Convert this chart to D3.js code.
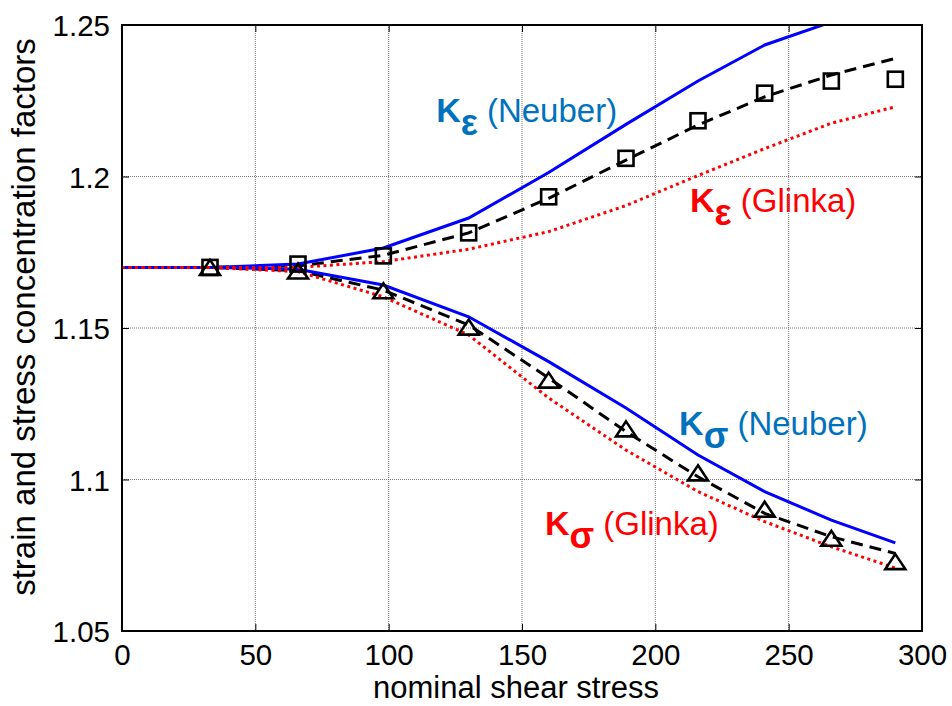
<!DOCTYPE html>
<html>
<head>
<meta charset="utf-8">
<script src="https://cdn.jsdelivr.net/npm/d3@7"></script>
<style>
  html, body { margin: 0; padding: 0; background: #fff; }
  svg { display: block; font-family: "Liberation Sans", Arial, sans-serif; }
</style>
</head>
<body>
<svg id="chart" width="952" height="706"></svg>
<script>
// ---------------- data ----------------
const stress = [0, 33, 66, 98, 130, 160, 189, 216, 241, 266, 290];
const epsNeuber = [1.17, 1.17, 1.1711, 1.1764, 1.1863, 1.2013, 1.2172, 1.2315, 1.2434, 1.2510, 1.2575];
const epsGlinka = [1.17, 1.17, 1.1700, 1.1719, 1.1760, 1.1818, 1.1904, 1.2003, 1.2092, 1.2176, 1.2230];
const epsFit    = [1.17, 1.17, 1.1705, 1.1740, 1.1814, 1.1928, 1.2054, 1.2170, 1.2263, 1.2335, 1.2390];
const sigNeuber = [1.17, 1.17, 1.1694, 1.1642, 1.1537, 1.1389, 1.1236, 1.1081, 1.0960, 1.0866, 1.0791];
const sigGlinka = [1.17, 1.17, 1.1686, 1.1603, 1.1477, 1.1269, 1.1097, 1.0960, 1.0861, 1.0778, 1.0708];
const sigFit    = [1.17, 1.17, 1.1689, 1.1625, 1.1510, 1.1335, 1.1158, 1.1009, 1.0888, 1.0811, 1.0756];

const markStress = [33, 66, 98, 130, 160, 189, 216, 241, 266, 290];
const epsMarks   = [1.17, 1.1711, 1.1738, 1.1814, 1.1933, 1.2060, 1.2184, 1.2275, 1.2315, 1.2321];
const sigMarks   = [1.17, 1.1688, 1.1623, 1.1503, 1.1328, 1.1167, 1.1022, 1.0902, 1.0806, 1.0729];

const xTicks = [0, 50, 100, 150, 200, 250, 300];
const yTicks = [1.05, 1.1, 1.15, 1.2, 1.25];
const yTickLabels = ["1.05", "1.1", "1.15", "1.2", "1.25"];

const xTitle = "nominal shear stress";
const yTitle = "strain and stress concentration factors";

// annotations (anchor in data coordinates)
const notes = [
  { k: "K", sub: "ε", rest: " (Neuber)", x: 117.8, y: 1.2181, color: "#0072BD" },
  { k: "K", sub: "ε", rest: " (Glinka)", x: 213.0, y: 1.1883, color: "#FF0000" },
  { k: "K", sub: "σ", rest: " (Neuber)", x: 208.9, y: 1.1147, color: "#0072BD" },
  { k: "K", sub: "σ", rest: " (Glinka)", x: 158.6, y: 1.0817, color: "#FF0000" }
];

// ---------------- layout ----------------
const L = 122, R = 922, T = 25, B = 631;
const svg = d3.select("#chart");
const x = d3.scaleLinear().domain([0, 300]).range([L, R]);
const y = d3.scaleLinear().domain([1.05, 1.25]).range([B, T]);

svg.append("defs").append("clipPath").attr("id", "clip")
  .append("rect").attr("x", L).attr("y", T).attr("width", R - L).attr("height", B - T);

// annotations (drawn first; grid passes over them as in the original)
notes.forEach(n => {
  const t = svg.append("text")
    .attr("x", x(n.x)).attr("y", y(n.y))
    .attr("fill", n.color);
  t.append("tspan").attr("font-weight", "bold").attr("font-size", 34).text(n.k);
  t.append("tspan").attr("font-weight", "bold").attr("font-size", 36).attr("dy", 13).text(n.sub);
  t.append("tspan").attr("font-size", 33).attr("dy", -13).text(n.rest);
});

// grid
const grid = svg.append("g");
grid.selectAll("line.gx").data(xTicks.slice(1, -1)).enter().append("line")
  .attr("x1", d => x(d)).attr("x2", d => x(d)).attr("y1", T).attr("y2", B)
  .attr("stroke", "#777").attr("stroke-width", 1).attr("stroke-dasharray", "1,1");
grid.selectAll("line.gy").data(yTicks.slice(1, -1)).enter().append("line")
  .attr("y1", d => y(d)).attr("y2", d => y(d)).attr("x1", L).attr("x2", R)
  .attr("stroke", "#777").attr("stroke-width", 1).attr("stroke-dasharray", "1,1");

// axes with inward ticks on all sides
const tickLen = 7;
const axB = svg.append("g").attr("transform", `translate(0,${B})`)
  .call(d3.axisBottom(x).tickValues(xTicks).tickSize(-tickLen).tickPadding(0).tickFormat(d3.format("d")));
const axT = svg.append("g").attr("transform", `translate(0,${T})`)
  .call(d3.axisTop(x).tickValues(xTicks).tickSize(-tickLen).tickFormat(""));
const axL = svg.append("g").attr("transform", `translate(${L},0)`)
  .call(d3.axisLeft(y).tickValues(yTicks).tickSize(-tickLen).tickPadding(12)
    .tickFormat((d, i) => yTickLabels[i]));
const axR = svg.append("g").attr("transform", `translate(${R},0)`)
  .call(d3.axisRight(y).tickValues(yTicks).tickSize(-tickLen).tickFormat(""));
[axB, axT, axL, axR].forEach(a => {
  a.select(".domain").remove();
  a.selectAll(".tick line").attr("stroke", "#000").attr("stroke-width", 1);
  a.selectAll("text").attr("font-size", 29.5).attr("fill", "#000")
    .attr("font-family", "'Liberation Sans', Arial, sans-serif");
});
axB.selectAll("text").attr("y", 34).attr("dy", null);
axL.selectAll("text").attr("dy", "0.36em");

// data lines
const line = vals => d3.line().x((d, i) => x(stress[i])).y(d => y(d))(vals);
const plot = svg.append("g").attr("clip-path", "url(#clip)");
const series = [
  { v: epsFit,    color: "#000", dash: "12,7" },
  { v: sigFit,    color: "#000", dash: "12,7" },
  { v: epsNeuber, color: "#0000FF", dash: null },
  { v: sigNeuber, color: "#0000FF", dash: null },
  { v: epsGlinka, color: "#FF0000", dash: "3,3.5" },
  { v: sigGlinka, color: "#FF0000", dash: "3,3.5" }
];
series.forEach(s => {
  plot.append("path").attr("d", line(s.v)).attr("fill", "none")
    .attr("stroke", s.color).attr("stroke-width", 3)
    .attr("stroke-dasharray", s.dash);
});

// markers
const sq = 15;
svg.append("g").selectAll("rect").data(epsMarks).enter().append("rect")
  .attr("x", (d, i) => x(markStress[i]) - sq / 2)
  .attr("y", d => y(d) - sq / 2)
  .attr("width", sq).attr("height", sq)
  .attr("fill", "none").attr("stroke", "#000").attr("stroke-width", 2.6);
const tw = 10, th = 7.5;
svg.append("g").selectAll("path").data(sigMarks).enter().append("path")
  .attr("d", (d, i) => {
    const cx = x(markStress[i]), cy = y(d);
    return `M${cx},${cy - th}L${cx + tw},${cy + th}L${cx - tw},${cy + th}Z`;
  })
  .attr("fill", "none").attr("stroke", "#000").attr("stroke-width", 2.6)
  .attr("stroke-linejoin", "miter");

// frame
svg.append("rect").attr("x", L).attr("y", T).attr("width", R - L).attr("height", B - T)
  .attr("fill", "none").attr("stroke", "#000").attr("stroke-width", 2);

// axis titles
svg.append("text").attr("x", (L + R) / 2 - 6).attr("y", 698)
  .attr("text-anchor", "middle").attr("font-size", 31).attr("fill", "#000").text(xTitle);
svg.append("text").attr("transform", "translate(35,317) rotate(-90)")
  .attr("text-anchor", "middle").attr("font-size", 33).attr("fill", "#000").text(yTitle);
</script>
</body>
</html>
